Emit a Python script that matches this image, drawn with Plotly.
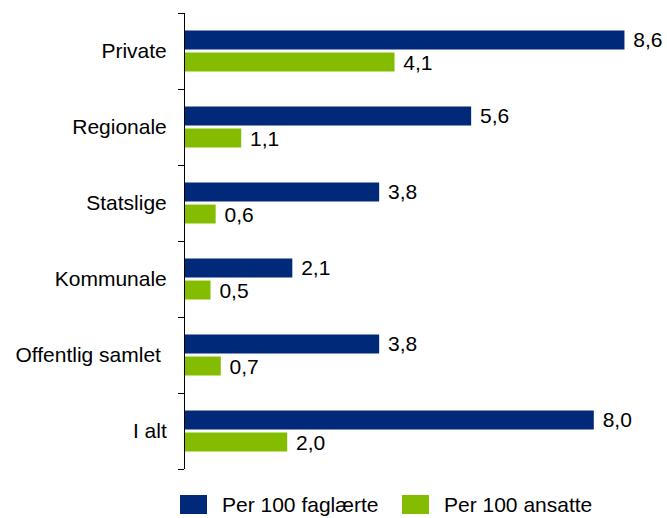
import plotly.graph_objects as go

categories = ["Private", "Regionale", "Statslige", "Kommunale", "Offentlig samlet", "I alt"]
tick_labels = ["Private", "Regionale", "Statslige", "Kommunale", "Offentlig samlet\u00a0", "I alt"]
per_100_faglaerte = [8.6, 5.6, 3.8, 2.1, 3.8, 8.0]
per_100_ansatte = [4.1, 1.1, 0.6, 0.5, 0.7, 2.0]
series_names = ["Per 100 faglærte", "Per 100 ansatte"]
colors = ["#00297A", "#84BD00"]

FONT = "Liberation Sans, Arial, sans-serif"
W, H = 667, 518
ML, MR, MT, MB = 185, 8, 13, 49
PW = W - ML - MR
PH = H - MT - MB

def px_x(x):
    return (x - ML) / PW

def px_y(y):
    return (H - MB - y) / PH

fig = go.Figure()
for name, vals, col in zip(series_names, [per_100_faglaerte, per_100_ansatte], colors):
    fig.add_trace(go.Bar(
        y=categories, x=vals, orientation="h", name=name,
        marker=dict(color=col, line=dict(width=0)),
        texttemplate="\u00a0%{x:.1f}", textposition="outside",
        textfont=dict(family=FONT, size=21, color="black"),
        cliponaxis=False, constraintext="none", showlegend=False,
        hoverinfo="skip",
    ))

# manual legend
legend_items = [
    (series_names[0], colors[0], 180, 207, 220),
    (series_names[1], colors[1], 402, 429, 442),
]
for name, col, x0, x1, tx in legend_items:
    fig.add_shape(type="rect", xref="paper", yref="paper",
                  x0=px_x(x0), x1=px_x(x1), y0=px_y(514), y1=px_y(495),
                  fillcolor=col, line=dict(width=0))
    fig.add_annotation(xref="paper", yref="paper", x=px_x(tx), y=px_y(504.5),
                       xanchor="left", yanchor="middle", showarrow=False,
                       text=name, font=dict(family=FONT, size=21, color="black"))

fig.update_layout(
    width=W, height=H,
    margin=dict(l=ML, r=MR, t=MT, b=MB),
    paper_bgcolor="white", plot_bgcolor="white",
    barmode="group", bargap=0.42, bargroupgap=0.14,
    separators=",.",
    font=dict(family=FONT, size=21, color="black"),
    xaxis=dict(range=[0, PW / 51.1], visible=False, showgrid=False, zeroline=False),
    yaxis=dict(
        categoryorder="array", categoryarray=categories,
        tickvals=categories, ticktext=tick_labels,
        autorange="reversed",
        showline=True, linecolor="black", linewidth=1,
        ticks="outside", tickson="boundaries", ticklen=6, tickcolor="black", tickwidth=1,
        showgrid=False, zeroline=False,
        tickfont=dict(family=FONT, size=21, color="black"),
        ticklabelstandoff=13,
    ),
)

fig.write_html(
    "out.html",
    config={"displayModeBar": False},
    post_script="document.body.style.margin='0';document.body.style.overflow='hidden';",
)
